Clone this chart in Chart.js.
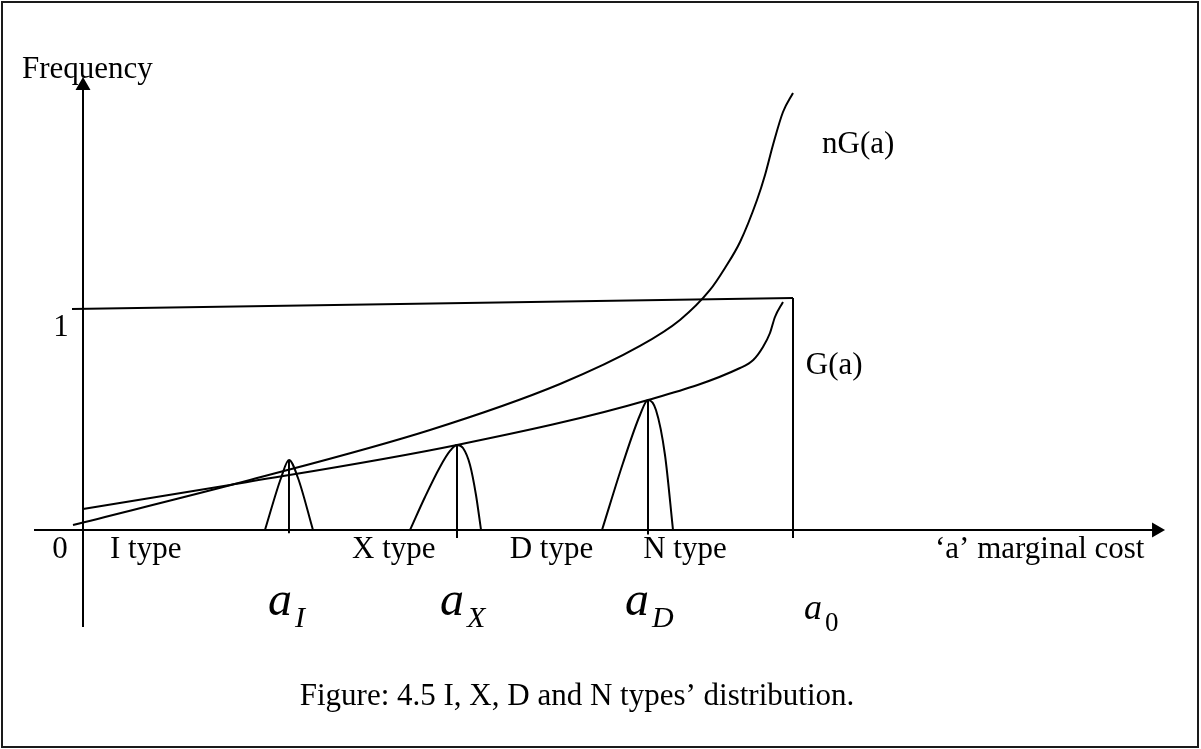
<!DOCTYPE html>
<html>
<head>
<meta charset="utf-8">
<script src="https://cdn.jsdelivr.net/npm/chart.js@4.4.1/dist/chart.umd.min.js"></script>
<style>
  html, body { margin: 0; padding: 0; background: #fff; }
  canvas { display: block; }
</style>
</head>
<body>
<canvas id="fig" width="1201" height="749"></canvas>
<script>
// x = marginal cost 'a' in units of a0, y = frequency (1 = the flat top line)
const gX  = [0, 0.2070, 0.5268, 0.7958, 0.9254, 0.9440, 0.9577, 0.9676, 0.9746, 0.9859];
const gY  = [0.095, 0.2036, 0.3846, 0.5882, 0.7330, 0.7692, 0.8281, 0.8914, 0.9638, 1.0317];

const ngX = [-0.0141, 0.2352, 0.4887, 0.6718, 0.7845, 0.8408, 0.8831, 0.9042, 0.9254, 0.9493, 0.9606, 0.9718, 0.9859, 1.0];
const ngY = [0.0226, 0.2262, 0.4525, 0.6606, 0.8326, 0.9502, 1.0860, 1.1855, 1.3032, 1.4932, 1.6063, 1.7421, 1.8914, 1.9774];

// type distributions sitting on the axis
const iPeakX = [0.2563, 0.2789, 0.2901, 0.3028, 0.3239];
const iPeakY = [0, 0.2353, 0.3167, 0.2353, 0];
const xPeakX = [0.4606, 0.4817, 0.5028, 0.5169, 0.5268, 0.5352, 0.5451, 0.5535, 0.5606];
const xPeakY = [0, 0.1493, 0.2851, 0.3575, 0.3846, 0.371, 0.2941, 0.1584, 0];
const nPeakX = [0.7310, 0.7606, 0.7845, 0.7958, 0.8070, 0.8197, 0.8310];
const nPeakY = [0, 0.3032, 0.5204, 0.5882, 0.543, 0.3394, 0];

// a_I, a_X, a_D stems
const stemX      = [0.2901, 0.5268, 0.7958];
const stemTop    = [0.3167, 0.3846, 0.5882];
const stemBottom = [-0.015, -0.036, -0.02];

// the "1" line and the a0 drop
const topLineX = [-0.0155, 1.0];
const topLineY = [1.0, 1.05];
const a0 = 1.0;
const a0Bottom = -0.036;

const typeLabels = ['I type', 'X type', 'D type', 'N type'];
const typeLabelX = [0.038, 0.379, 0.601, 0.789];
const symSubs = ['I', 'X', 'D', '0'];
const symX    = [0.2606, 0.5028, 0.7634, 1.0155];

const XMIN = -0.07, XMAX = 1.55, YMIN = -0.5, YMAX = 2.1;
const ORIGIN_X = 83, ORIGIN_Y = 530, UNIT_X = 710, UNIT_Y = 221;

const zip = (xs, ys) => xs.map((v, i) => ({ x: v, y: ys[i] }));
const line = (data, smooth) => ({
  data, showLine: true, pointRadius: 0, borderColor: '#000', borderWidth: 2,
  fill: false, cubicInterpolationMode: smooth ? 'monotone' : 'default', tension: 0
});

const datasets = [
  line(zip(gX, gY), true),
  line(zip(ngX, ngY), true),
  line(zip(iPeakX, iPeakY), true),
  line(zip(xPeakX, xPeakY), true),
  line(zip(nPeakX, nPeakY), true),
  line(zip(topLineX, topLineY), false),
  line([{ x: a0, y: topLineY[1] }, { x: a0, y: a0Bottom }], false)
];
stemX.forEach((sx, i) => datasets.push(line([{ x: sx, y: stemTop[i] }, { x: sx, y: stemBottom[i] }], false)));

const SERIF = '"Liberation Serif", "Times New Roman", serif';

const sketch = {
  id: 'sketch',
  beforeDraw(chart) {
    const { ctx } = chart;
    ctx.save();
    ctx.fillStyle = '#fff';
    ctx.fillRect(0, 0, chart.width, chart.height);
    ctx.strokeStyle = '#1a1a1a';
    ctx.lineWidth = 2;
    ctx.strokeRect(2, 2, 1196, 745);
    ctx.restore();
  },
  afterDatasetsDraw(chart) {
    const { ctx, scales: { x, y } } = chart;
    const px = v => x.getPixelForValue(v);
    const py = v => y.getPixelForValue(v);
    ctx.save();
    ctx.strokeStyle = '#000';
    ctx.fillStyle = '#000';
    ctx.lineWidth = 2;

    // axes
    const ox = px(0), oy = py(0);
    const yTop = py(2.05), yBot = py(-0.439);
    const xLeft = px(-0.069), xRight = px(1.524);
    ctx.beginPath();
    ctx.moveTo(ox, yBot); ctx.lineTo(ox, yTop + 10);
    ctx.moveTo(xLeft, oy); ctx.lineTo(xRight - 10, oy);
    ctx.stroke();
    ctx.beginPath();
    ctx.moveTo(ox, yTop); ctx.lineTo(ox - 7.5, yTop + 13); ctx.lineTo(ox + 7.5, yTop + 13); ctx.closePath();
    ctx.moveTo(xRight, oy); ctx.lineTo(xRight - 13, oy - 7.5); ctx.lineTo(xRight - 13, oy + 7.5); ctx.closePath();
    ctx.fill();

    // text
    ctx.textBaseline = 'alphabetic';
    ctx.font = '31px ' + SERIF;
    ctx.textAlign = 'left';
    ctx.fillText('Frequency', px(-0.0859), py(2.045));
    ctx.textAlign = 'center';
    ctx.fillText('1', px(-0.031), py(0.878));
    ctx.fillText('0', px(-0.0324), py(-0.127));
    ctx.textAlign = 'left';
    typeLabels.forEach((t, i) => ctx.fillText(t, px(typeLabelX[i]), py(-0.127)));
    ctx.fillText('\u2018a\u2019 marginal cost', px(1.2), py(-0.127));
    ctx.fillText('G(a)', px(1.018), py(0.706));
    ctx.fillText('nG(a)', px(1.041), py(1.706));

    // a_I, a_X, a_D, a_0
    symSubs.forEach((s, i) => {
      const last = i === symSubs.length - 1;
      const bx = px(symX[i]), by = py(-0.3846) + (last ? 4 : 0);
      ctx.font = 'italic ' + (last ? 36 : 48) + 'px ' + SERIF;
      ctx.fillText('a', bx, by);
      const w = ctx.measureText('a').width;
      ctx.font = (last ? '' : 'italic ') + (last ? 27 : 30) + 'px ' + SERIF;
      ctx.fillText(s, bx + w + 3, by + 12);
    });

    ctx.font = '31px ' + SERIF;
    ctx.textAlign = 'center';
    ctx.fillText('Figure: 4.5 I, X, D and N types\u2019 distribution.', 577, 705);
    ctx.restore();
  }
};

new Chart(document.getElementById('fig'), {
  type: 'scatter',
  data: { datasets },
  options: {
    responsive: false,
    animation: false,
    events: [],
    layout: {
      padding: {
        left: ORIGIN_X + UNIT_X * XMIN,
        right: 1201 - (ORIGIN_X + UNIT_X * XMAX),
        top: ORIGIN_Y - UNIT_Y * YMAX,
        bottom: 749 - (ORIGIN_Y - UNIT_Y * YMIN)
      }
    },
    plugins: { legend: { display: false }, tooltip: { enabled: false } },
    scales: {
      x: { type: 'linear', min: XMIN, max: XMAX, display: false },
      y: { type: 'linear', min: YMIN, max: YMAX, display: false }
    }
  },
  plugins: [sketch]
});
</script>
</body>
</html>
